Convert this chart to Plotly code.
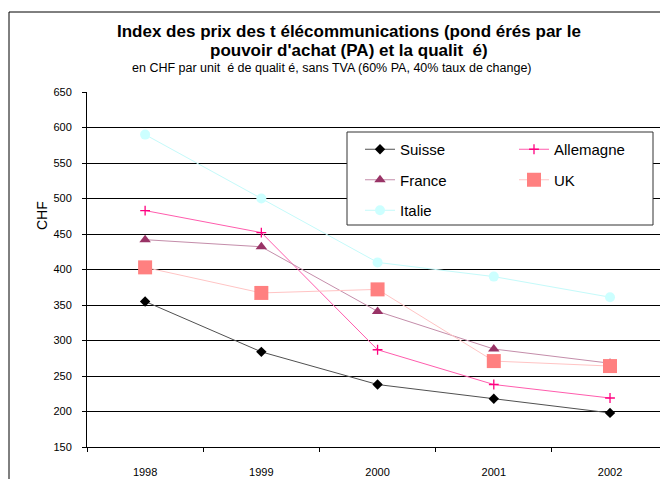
import plotly.graph_objects as go

years = ["1998", "1999", "2000", "2001", "2002"]
suisse = [355, 284, 238, 218, 198]
allemagne = [483, 452, 287, 238, 219]
france = [442, 432, 341, 288, 268]
uk = [403, 367, 372, 271, 264]
italie = [590, 500, 410, 390, 361]
y_ticks = [150, 200, 250, 300, 350, 400, 450, 500, 550, 600, 650]

W, H = 660, 479
L, R, T, B = 87, 0, 92, 32
PW, PH = W - L - R, H - T - B


def px(x):
    return (x - L) / PW


def py(y):
    return (H - B - y) / PH


FONT = "Liberation Sans, Arial, sans-serif"

fig = go.Figure()

series = [
    ("Suisse", suisse, "#000000", "#505050", "diamond", 8, "legend"),
    ("Allemagne", allemagne, "#FF0080", "#FF5CAD", "cross-thin", 7, "legend2"),
    ("France", france, "#993366", "#C48DAA", "triangle-up", 10, "legend"),
    ("UK", uk, "#FF8080", "#FFC4C4", "square", 14, "legend2"),
    ("Italie", italie, "#CCFFFF", "#C4FAFA", "circle", 10, "legend"),
]

for i, (name, vals, mcol, lcol, sym, size, leg) in enumerate(series):
    marker = dict(color=mcol, symbol=sym, size=size)
    if sym == "cross-thin":
        marker["line"] = dict(color=mcol, width=1.3)
    fig.add_trace(go.Scatter(
        x=years, y=vals, name=name, mode="lines+markers",
        line=dict(color=lcol, width=1),
        marker=marker,
        legend=leg, legendgroup=name,
    ))

# chart outer border and legend box
fig.add_shape(type="rect", xref="paper", yref="paper",
              x0=px(9), x1=px(700), y0=py(520), y1=py(12),
              line=dict(color="#000000", width=1), fillcolor="rgba(0,0,0,0)",
              layer="above")
fig.add_shape(type="rect", xref="paper", yref="paper",
              x0=px(347), x1=px(653), y0=py(225), y1=py(132),
              line=dict(color="#333333", width=1), fillcolor="#FFFFFF",
              layer="above")

fig.add_annotation(text="<b>Index des prix des t élécommunications (pond érés par le</b>",
                   xref="paper", yref="paper", x=px(348.5), y=py(31),
                   xanchor="center", yanchor="middle", showarrow=False,
                   font=dict(family=FONT, size=17, color="#000000"))
fig.add_annotation(text="<b>pouvoir d'achat (PA) et la qualit  é)</b>",
                   xref="paper", yref="paper", x=px(348.5), y=py(50.5),
                   xanchor="center", yanchor="middle", showarrow=False,
                   font=dict(family=FONT, size=17, color="#000000"))
fig.add_annotation(text="en CHF par unit  é de qualit é, sans TVA (60% PA, 40% taux de change)",
                   xref="paper", yref="paper", x=px(331.5), y=py(67.5),
                   xanchor="center", yanchor="middle", showarrow=False,
                   font=dict(family=FONT, size=12.5, color="#000000"))
fig.add_annotation(text="CHF", textangle=-90,
                   xref="paper", yref="paper", x=px(42), y=py(216),
                   xanchor="center", yanchor="middle", showarrow=False,
                   font=dict(family=FONT, size=14, color="#000000"))

legend_common = dict(
    orientation="v", bgcolor="rgba(0,0,0,0)", borderwidth=0,
    font=dict(family=FONT, size=15, color="#000000"),
    traceorder="grouped", tracegroupgap=8,
    xanchor="left", yanchor="top", itemwidth=30,
)

fig.update_layout(
    width=W, height=H,
    margin=dict(l=L, r=R, t=T, b=B, pad=0),
    paper_bgcolor="#FFFFFF", plot_bgcolor="#FFFFFF",
    showlegend=True,
    legend=dict(x=px(360), y=py(133), **legend_common),
    legend2=dict(x=px(514), y=py(133), **legend_common),
    font=dict(family=FONT, size=11, color="#000000"),
    xaxis=dict(
        type="category", range=[-0.5, 4.43],
        tickson="boundaries", ticks="outside", ticklen=4, tickcolor="#000000",
        showgrid=False, showline=True, linecolor="#000000", linewidth=1,
        tickfont=dict(family=FONT, size=11, color="#000000"),
        ticklabelstandoff=15, zeroline=False,
    ),
    yaxis=dict(
        range=[150, 650], tickvals=y_ticks,
        ticks="outside", ticklen=4, tickcolor="#000000",
        showgrid=True, gridcolor="#000000", gridwidth=1,
        showline=True, linecolor="#000000", linewidth=1,
        tickfont=dict(family=FONT, size=11, color="#000000"),
        ticklabelstandoff=8, zeroline=False,
    ),
)

fig.write_html("out.html", config={"displayModeBar": False},
               post_script="document.body.style.margin='0';document.body.style.overflow='hidden';")
